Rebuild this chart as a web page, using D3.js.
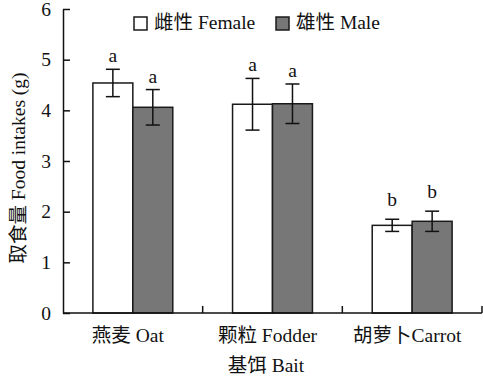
<!DOCTYPE html>
<html>
<head>
<meta charset="utf-8">
<script src="https://cdn.jsdelivr.net/npm/d3@7/dist/d3.min.js"></script>
<style>
  html, body { margin: 0; padding: 0; background: #fff; }
  svg { display: block; }
  text { font-family: "Liberation Serif", "Noto Sans CJK SC", serif; fill: #111; }
</style>
</head>
<body>
<svg id="chart" width="483" height="379"></svg>
<script>
// Food intake by bait type and sex (mean ± SE, g)
const categories = ["燕麦 Oat", "颗粒 Fodder", "胡萝卜Carrot"];
const seriesNames = ["雌性 Female", "雄性 Male"];
const femaleMean = [4.54, 4.12, 1.73];
const femaleSE   = [0.27, 0.51, 0.12];
const maleMean   = [4.06, 4.13, 1.81];
const maleSE     = [0.35, 0.39, 0.20];
const femaleLetters = ["a", "a", "b"];
const maleLetters   = ["a", "a", "b"];
const yTicks = [0, 1, 2, 3, 4, 5, 6];

const rows = [];
categories.forEach((c, i) => {
  rows.push({ cat: c, series: seriesNames[0], mean: femaleMean[i], se: femaleSE[i], letter: femaleLetters[i] });
  rows.push({ cat: c, series: seriesNames[1], mean: maleMean[i], se: maleSE[i], letter: maleLetters[i] });
});

const fills = { [seriesNames[0]]: "#ffffff", [seriesNames[1]]: "#777777" };
const FS = 19.5;

const svg = d3.select("#chart");
const mLeft = 63, mRight = 482, mTop = 9, mBottom = 313;

const x = d3.scaleBand().domain(categories).range([mLeft, mRight]).paddingInner(0).paddingOuter(0);
const xs = d3.scaleBand().domain(seriesNames).range([x.bandwidth() * 0.214, x.bandwidth() * 0.786]).padding(0);
const y = d3.scaleLinear().domain([0, 6]).range([mBottom, mTop]);

// bars
const g = svg.append("g");
g.selectAll("rect.bar").data(rows).join("rect")
  .attr("class", "bar")
  .attr("x", d => x(d.cat) + xs(d.series))
  .attr("width", xs.bandwidth())
  .attr("y", d => y(d.mean))
  .attr("height", d => y(0) - y(d.mean))
  .attr("fill", d => fills[d.series])
  .attr("stroke", "#1a1a1a")
  .attr("stroke-width", 1.5);

// error bars
const cap = 7;
const eb = g.selectAll("g.err").data(rows).join("g").attr("class", "err")
  .attr("transform", d => `translate(${x(d.cat) + xs(d.series) + xs.bandwidth() / 2},0)`);
eb.append("line").attr("x1", 0).attr("x2", 0)
  .attr("y1", d => y(d.mean + d.se)).attr("y2", d => y(d.mean - d.se));
eb.append("line").attr("x1", -cap).attr("x2", cap)
  .attr("y1", d => y(d.mean + d.se)).attr("y2", d => y(d.mean + d.se));
eb.append("line").attr("x1", -cap).attr("x2", cap)
  .attr("y1", d => y(d.mean - d.se)).attr("y2", d => y(d.mean - d.se));
eb.selectAll("line").attr("stroke", "#111").attr("stroke-width", 1.5);

// significance letters
eb.append("text")
  .attr("text-anchor", "middle")
  .attr("y", d => y(d.mean + d.se) - (d.letter === "b" ? 13 : 7))
  .attr("font-size", FS)
  .text(d => d.letter);

// y axis
const yAxis = d3.axisLeft(y).tickValues(yTicks).tickFormat(d3.format("d"))
  .tickSizeInner(-7).tickSizeOuter(0).tickPadding(12);
const ya = svg.append("g").attr("transform", `translate(${mLeft},0)`).call(yAxis);
ya.attr("font-family", null).attr("font-size", null);
ya.select(".domain").attr("stroke", "#111").attr("stroke-width", 1.5);
ya.selectAll(".tick line").attr("stroke", "#111").attr("stroke-width", 1.5);
ya.selectAll(".tick text").attr("font-size", FS).attr("fill", "#111");

// x axis: ticks at category boundaries, pointing inward
svg.append("line").attr("x1", mLeft).attr("x2", mRight).attr("y1", mBottom).attr("y2", mBottom)
  .attr("stroke", "#111").attr("stroke-width", 1.5);
const bounds = categories.slice(1).map(c => x(c)).concat([mRight]);
svg.selectAll("line.xtick").data(bounds).join("line").attr("class", "xtick")
  .attr("x1", d => d).attr("x2", d => d).attr("y1", mBottom).attr("y2", mBottom - 7)
  .attr("stroke", "#111").attr("stroke-width", 1.5);
svg.selectAll("text.xlab").data(categories).join("text").attr("class", "xlab")
  .attr("x", d => x(d) + x.bandwidth() / 2 - 5)
  .attr("y", 342)
  .attr("text-anchor", "middle")
  .attr("font-size", FS)
  .text(d => d);

// axis titles
svg.append("text").attr("x", 266).attr("y", 372).attr("text-anchor", "middle")
  .attr("font-size", FS).text("基饵 Bait");
svg.append("text").attr("transform", `translate(25,168) rotate(-90)`).attr("text-anchor", "middle")
  .attr("font-size", FS).text("取食量 Food intakes (g)");

// legend
const legX = [134, 276];
const lg = svg.selectAll("g.leg").data(seriesNames).join("g").attr("class", "leg")
  .attr("transform", (d, i) => `translate(${legX[i]},16)`);
lg.append("rect").attr("x", 0).attr("y", 1).attr("width", 13).attr("height", 13)
  .attr("fill", d => fills[d]).attr("stroke", "#1a1a1a").attr("stroke-width", 1.5);
lg.append("text").attr("x", 20).attr("y", 13).attr("font-size", FS).text(d => d);
</script>
</body>
</html>
